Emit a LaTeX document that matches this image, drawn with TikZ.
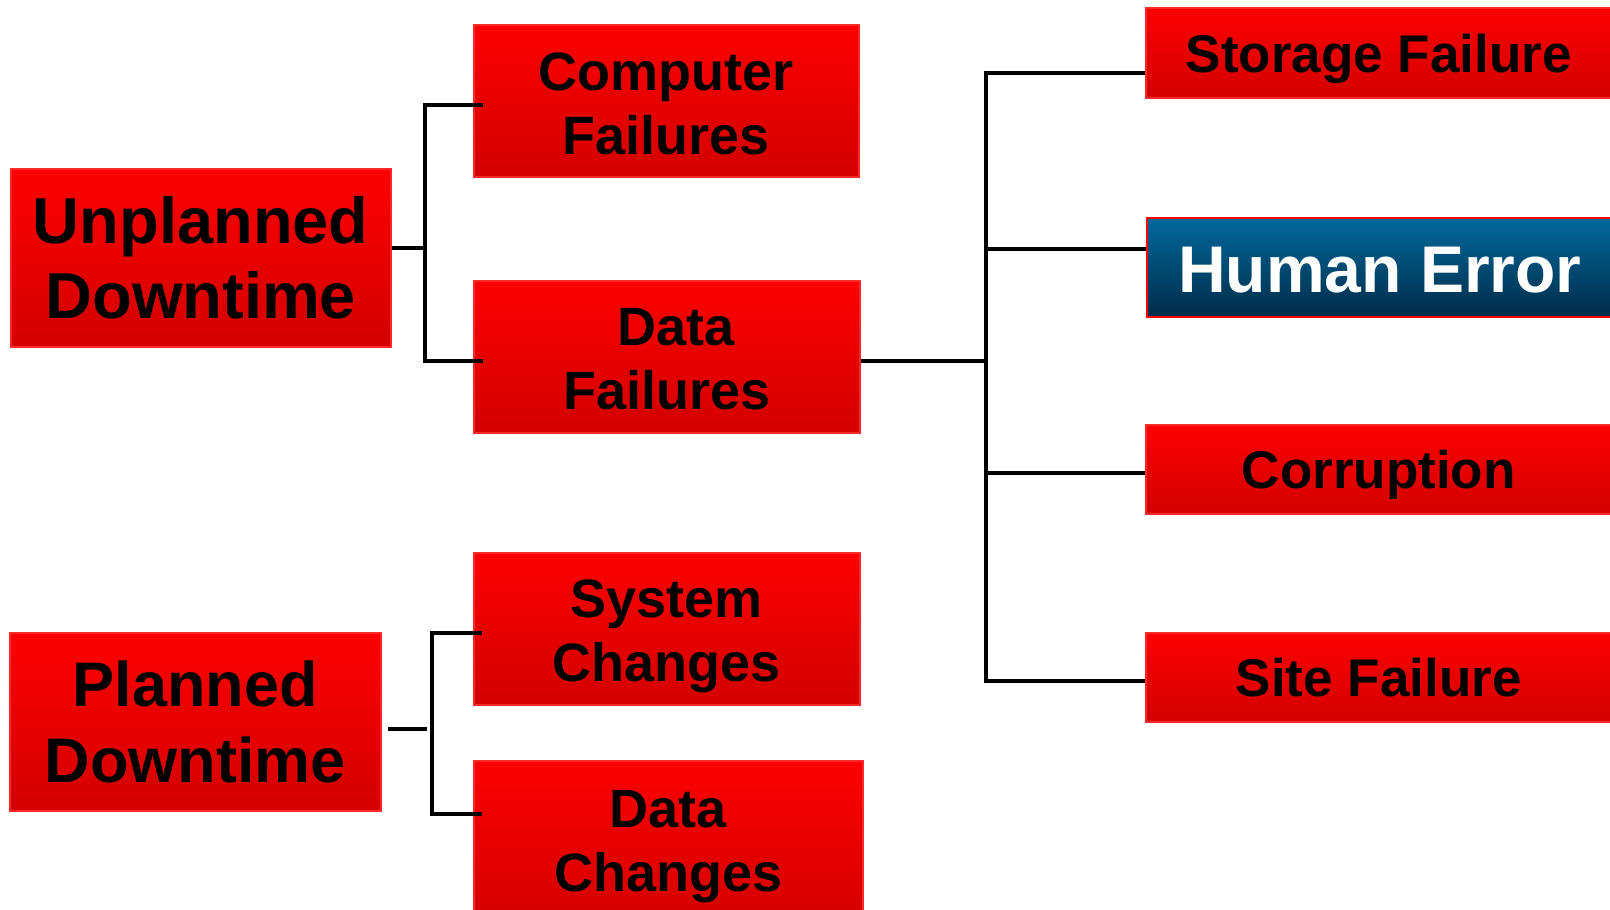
\documentclass[tikz,border=0pt]{standalone}
\usepackage{fontspec}
\setmainfont{Liberation Sans}
\definecolor{rtop}{RGB}{252,0,0}
\definecolor{rbot}{RGB}{212,0,0}
\definecolor{rline}{RGB}{255,40,40}
\definecolor{btop}{RGB}{0,104,156}
\definecolor{bbot}{RGB}{0,44,72}
\tikzset{
  box/.style={draw=rline, line width=1.5pt, inner sep=0pt, anchor=north west,
    align=center, text=black},
  rbox/.style={box, top color=rtop, bottom color=rbot},
  bbox/.style={box, draw=red, line width=2pt, top color=btop, bottom color=bbot, text=white},
  conn/.style={line width=4.6pt, black},
  big/.style={font=\fontsize{65}{75}\selectfont\bfseries},
  mid/.style={font=\fontsize{54}{64}\selectfont\bfseries},
  sml/.style={font=\fontsize{53}{60}\selectfont\bfseries, text depth=0pt},
}
\begin{document}
\begin{tikzpicture}[x=1pt,y=-1pt]
\useasboundingbox (0,0) rectangle (1610,910);
\fill[white] (0,0) rectangle (1610,910);
% left column
\node[rbox, big, minimum width=380pt, minimum height=178pt] (unp) at (10,168) {Unplanned\\Downtime};
\node[rbox, font=\fontsize{63}{76}\selectfont\bfseries, minimum width=371pt, minimum height=178pt] (pln) at (9,632) {Planned\\Downtime};
% middle column
\node[rbox, mid, minimum width=385pt, minimum height=152pt] (cf) at (473,24) {\rule{0pt}{45pt}Computer\\Failures};
\node[rbox, mid, minimum width=386pt, minimum height=152pt] (df) at (473,280) {\rule{0pt}{43pt}\hspace*{18pt}Data\\Failures};
\node[rbox, mid, minimum width=386pt, minimum height=152pt] (sc) at (473,552) {\rule{0pt}{53pt}System\\Changes};
\node[rbox, mid, minimum width=389pt, minimum height=165pt] (dc) at (473,760) {\rule{0pt}{43pt}Data\\Changes};
% right column
\node[rbox, sml, text height=40pt, minimum width=466pt, minimum height=90pt] (sf) at (1145,7) {Storage Failure};
\node[bbox, font=\fontsize{66}{70}\selectfont\bfseries, text height=49pt, text depth=0pt, minimum width=466pt, minimum height=99pt] (he) at (1146,217) {Human Error};
\node[rbox, sml, text height=39pt, minimum width=466pt, minimum height=89pt] (co) at (1145,424) {Corruption};
\node[rbox, sml, text height=39pt, minimum width=466pt, minimum height=89pt] (sitef) at (1145,632) {Site Failure};
% bracket coordinates
\coordinate (u1) at (425,248);
\coordinate (ut) at (425,105);
\coordinate (ub) at (425,361);
\coordinate (rm) at (986,361);
\coordinate (rt) at (986,73);
\coordinate (rh) at (986,249);
\coordinate (rc) at (986,473);
\coordinate (rb) at (986,681);
\coordinate (pl) at (427,729);
\coordinate (pt) at (432,633);
\coordinate (pb) at (432,814);
% connectors
\draw[conn] (unp.east |- u1) -- (u1);
\draw[conn] ([xshift=10pt]cf.west |- ut) -- (ut) -- (ub) -- ([xshift=10pt]df.west |- ub);
\draw[conn] (df.east |- rm) -- (rm);
\draw[conn] (sf.west |- rt) -- (rt) -- (rb) -- (sitef.west |- rb);
\draw[conn] (he.west |- rh) -- (rh);
\draw[conn] (co.west |- rc) -- (rc);
\draw[conn] ([xshift=6pt]pln.east |- pl) -- (pl);
\draw[conn] ([xshift=9pt]sc.west |- pt) -- (pt) -- (pb) -- ([xshift=9pt]dc.west |- pb);
\end{tikzpicture}
\end{document}
